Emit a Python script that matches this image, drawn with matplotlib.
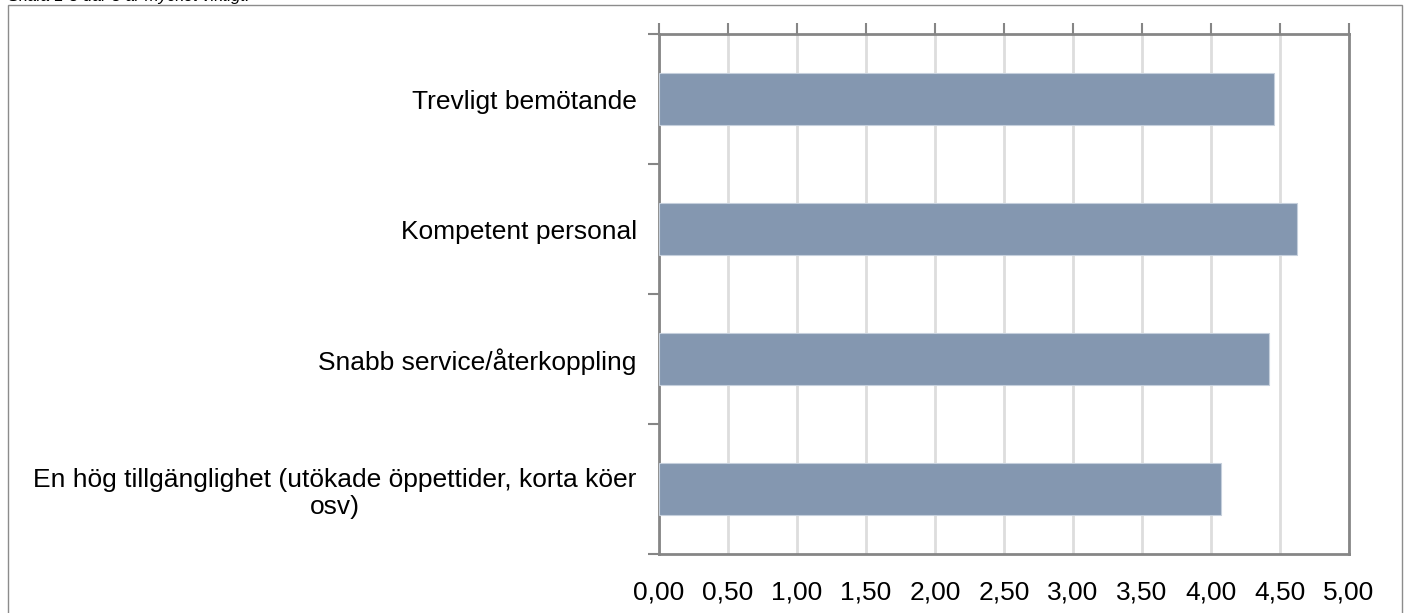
import numpy as np
import matplotlib.pyplot as plt
from matplotlib.patches import Rectangle

categories = ['Trevligt bemötande',
              'Kompetent personal',
              'Snabb service/återkoppling',
              'En hög tillgänglighet (utökade öppettider, korta köer\nosv)']
values = [4.46, 4.62, 4.42, 4.07]
xticks = np.arange(0, 5.01, 0.5)
xtick_labels = [f'{v:.2f}'.replace('.', ',') for v in xticks]

plt.rcParams['font.family'] = ['Liberation Sans', 'DejaVu Sans']

fig = plt.figure(figsize=(14.08, 6.13), dpi=100)
ax = fig.add_axes([659 / 1408, 1 - 554 / 613, 690 / 1408, 520 / 613])

# outer frame (bottom runs past the picture)
fig.patches.append(Rectangle((8 / 1408, -0.05), 1394 / 1408, 1.05 - 5 / 613,
                             transform=fig.transFigure, fill=False,
                             edgecolor='#8c8c8c', linewidth=1))
fig.text(8 / 1408, 1 - 1 / 613, 'Skala 1-5 där 5 är mycket viktigt.',
         fontsize=12, style='italic', va='baseline', ha='left')

y = np.arange(len(categories))
ax.barh(y, values, height=0.4, color='#8497b0', edgecolor='#c5cfdc', linewidth=0.8, zorder=3)

ax.set_xlim(0, 5)
ax.set_ylim(len(categories) - 0.5, -0.5)
ax.set_xticks(xticks)
ax.set_xticklabels(xtick_labels, fontsize=19)
ax.set_yticks(y)
ax.set_yticklabels(categories, fontsize=19, multialignment='center')
ax.set_yticks(np.arange(-0.5, len(categories)), minor=True)

ax.grid(axis='x', color='#dddddd', linewidth=2, zorder=0)
ax.tick_params(axis='x', top=True, bottom=False, labeltop=False, labelbottom=True,
               length=8, width=1.5, color='#868686', pad=11)
ax.tick_params(axis='y', which='major', length=0, pad=16)
ax.tick_params(axis='y', which='minor', length=8, width=1.5, color='#868686')

for s in ax.spines.values():
    s.set_color('#868686')
    s.set_linewidth(2)

plt.savefig('out.png', dpi=100)
